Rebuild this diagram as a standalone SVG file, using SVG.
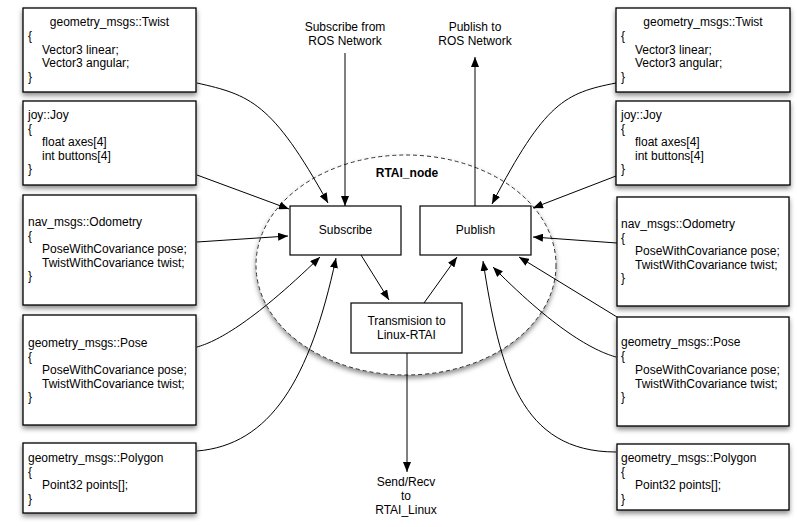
<svg xmlns="http://www.w3.org/2000/svg" width="797" height="527" viewBox="0 0 797 527">
<style>
text{font-family:"Liberation Sans",Arial,Helvetica,sans-serif;font-size:12px;fill:#000}
.c{text-anchor:middle}
.b{font-weight:bold}
.msg{fill:#fff;stroke:#000;stroke-width:1.3}
.box{fill:#fff;stroke:#000;stroke-width:1.2}
.ln{fill:none;stroke:#000;stroke-width:1;marker-end:url(#ah)}
.pl{fill:none;stroke:#000;stroke-width:1}
</style>
<defs>
<filter id="sh" x="-20%" y="-20%" width="140%" height="150%">
<feDropShadow dx="0" dy="3" stdDeviation="2.5" flood-color="#000" flood-opacity="0.45"/>
</filter>
<marker id="ah" viewBox="0 0 10 8" refX="10" refY="4" markerWidth="10" markerHeight="8" markerUnits="userSpaceOnUse" orient="auto">
<path d="M0,0 L10,4 L0,8 Z" fill="#000"/>
</marker>
</defs>
<rect width="797" height="527" fill="#fff"/>

<g id="rtai_node">
<ellipse cx="406" cy="265" rx="150" ry="110" fill="#fff" stroke="#333" stroke-width="1" stroke-dasharray="4,3" filter="url(#sh)"/>
<text x="407" y="177" class="c b">RTAI_node</text>
</g>

<g id="connectors">
<path class="ln" d="M345,53 L345,206"/>
<path class="ln" d="M475,206 L475,57"/>
<path class="ln" d="M407,353 L407,472"/>
<path class="ln" d="M361,255 L389,300"/>
<path class="ln" d="M424,303 L457,257"/>
<path class="ln" d="M197,83 C250,95 272,102 328,203"/>
<path class="ln" d="M197,175 L289,209"/>
<path class="ln" d="M197,242 L288,236"/>
<path class="ln" d="M197,347 C215,342 250,325 320,257"/>
<path class="ln" d="M197,451 C270,445 310,380 336,258"/>
<path class="ln" d="M616,83 C565,93 545,102 492,204"/>
<path class="ln" d="M616,176 L533,208"/>
<path class="ln" d="M617,243 L533,237"/>
<path class="ln" d="M617,317 L519,257"/>
<path class="ln" d="M616,357 C598,352 560,335 493,267"/>
<path class="ln" d="M616,452 C520,452 500,370 483,261"/>
</g>

<g id="subscribe">
<rect class="box" x="290" y="206" width="111" height="49"/>
<text x="345.5" y="234" class="c">Subscribe</text>
</g>
<g id="publish">
<rect class="box" x="420" y="206" width="111" height="49"/>
<text x="475.5" y="234" class="c">Publish</text>
</g>
<g id="transmission">
<rect class="box" x="351" y="303" width="111" height="50"/>
<text x="406.5" y="325" class="c">Transmision to</text>
<text x="406.5" y="339" class="c">Linux-RTAI</text>
</g>

<g id="label_subscribe_ros">
<text x="345" y="31" class="c">Subscribe from</text>
<text x="345" y="45" class="c">ROS Network</text>
</g>
<g id="label_publish_ros">
<text x="475" y="31" class="c">Publish to</text>
<text x="475" y="45" class="c">ROS Network</text>
</g>
<g id="label_sendrecv">
<text x="406" y="486" class="c">Send/Recv</text>
<text x="406" y="500" class="c">to</text>
<text x="406" y="514" class="c">RTAI_Linux</text>
</g>

<g id="left_twist">
<rect class="msg" x="23" y="8" width="173" height="84" filter="url(#sh)"/>
<text x="109.5" y="26" class="c">geometry_msgs::Twist</text>
<text x="28" y="40">{</text>
<text x="42" y="53.5">Vector3 linear;</text>
<text x="42" y="67">Vector3 angular;</text>
<text x="28" y="80.5">}</text>
</g>
<g id="left_joy">
<rect class="msg" x="23" y="101" width="173" height="84" filter="url(#sh)"/>
<text x="28" y="119">joy::Joy</text>
<text x="28" y="132.5">{</text>
<text x="42" y="146">float axes[4]</text>
<text x="42" y="159.5">int buttons[4]</text>
<text x="28" y="173">}</text>
</g>
<g id="left_odometry">
<rect class="msg" x="23" y="195" width="173" height="110" filter="url(#sh)"/>
<text x="28" y="226">nav_msgs::Odometry</text>
<text x="28" y="239.5">{</text>
<text x="42" y="253">PoseWithCovariance pose;</text>
<text x="42" y="266.5">TwistWithCovariance twist;</text>
<text x="28" y="280">}</text>
</g>
<g id="left_pose">
<rect class="msg" x="23" y="315" width="173" height="110" filter="url(#sh)"/>
<text x="28" y="347">geometry_msgs::Pose</text>
<text x="28" y="360.5">{</text>
<text x="42" y="374">PoseWithCovariance pose;</text>
<text x="42" y="387.5">TwistWithCovariance twist;</text>
<text x="28" y="401">}</text>
</g>
<g id="left_polygon">
<rect class="msg" x="23" y="443" width="173" height="70" filter="url(#sh)"/>
<text x="28" y="462">geometry_msgs::Polygon</text>
<text x="28" y="475.5">{</text>
<text x="42" y="489">Point32 points[];</text>
<text x="28" y="502.5">}</text>
</g>

<g id="right_twist">
<rect class="msg" x="616" y="8" width="174" height="84" filter="url(#sh)"/>
<text x="703" y="26" class="c">geometry_msgs::Twist</text>
<text x="621" y="40">{</text>
<text x="635" y="53.5">Vector3 linear;</text>
<text x="635" y="67">Vector3 angular;</text>
<text x="621" y="80.5">}</text>
</g>
<g id="right_joy">
<rect class="msg" x="616" y="101" width="174" height="84" filter="url(#sh)"/>
<text x="621" y="119">joy::Joy</text>
<text x="621" y="132.5">{</text>
<text x="635" y="146">float axes[4]</text>
<text x="635" y="159.5">int buttons[4]</text>
<text x="621" y="173">}</text>
</g>
<g id="right_odometry">
<rect class="msg" x="617" y="197" width="172" height="109" filter="url(#sh)"/>
<text x="621" y="228">nav_msgs::Odometry</text>
<text x="621" y="241.5">{</text>
<text x="635" y="255">PoseWithCovariance pose;</text>
<text x="635" y="268.5">TwistWithCovariance twist;</text>
<text x="621" y="282">}</text>
</g>
<g id="right_pose">
<rect class="msg" x="617" y="317" width="172" height="109" filter="url(#sh)"/>
<text x="621" y="346">geometry_msgs::Pose</text>
<text x="621" y="360">{</text>
<text x="635" y="374">PoseWithCovariance pose;</text>
<text x="635" y="387.5">TwistWithCovariance twist;</text>
<text x="621" y="401">}</text>
</g>
<g id="right_polygon">
<rect class="msg" x="617" y="444" width="172" height="66" filter="url(#sh)"/>
<text x="621" y="462">geometry_msgs::Polygon</text>
<text x="621" y="475.5">{</text>
<text x="635" y="489">Point32 points[];</text>
<text x="621" y="502.5">}</text>
</g>
</svg>
